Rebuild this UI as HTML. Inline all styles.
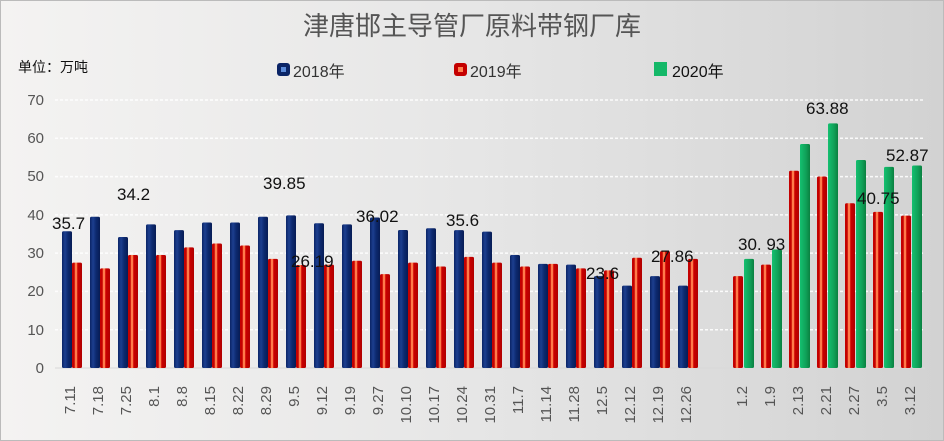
<!DOCTYPE html>
<html><head><meta charset="utf-8"><style>
body{margin:0;width:944px;height:441px;overflow:hidden}
svg{display:block}
text{font-family:"Liberation Sans","Noto Sans CJK SC",sans-serif}
</style></head><body>
<svg width="944" height="441" viewBox="0 0 944 441">
<defs>
<linearGradient id="bg" x1="0" x2="1" y1="0" y2="0"><stop offset="0" stop-color="#f4f3f2"/><stop offset="0.5" stop-color="#e6e6e6"/><stop offset="1" stop-color="#d2d2d2"/></linearGradient>
<linearGradient id="bl" x1="0" x2="1"><stop offset="0" stop-color="#0a2466"/><stop offset="0.3" stop-color="#1d3f8f"/><stop offset="0.6" stop-color="#0d2a70"/><stop offset="1" stop-color="#071c55"/></linearGradient>
<linearGradient id="rd" x1="0" x2="1"><stop offset="0" stop-color="#c40000"/><stop offset="0.25" stop-color="#c40000"/><stop offset="0.3" stop-color="#ff7a4a"/><stop offset="0.5" stop-color="#ff7a4a"/><stop offset="0.55" stop-color="#cc0000"/><stop offset="1" stop-color="#b00000"/></linearGradient>
<linearGradient id="gr" x1="0" x2="1"><stop offset="0" stop-color="#14c070"/><stop offset="0.6" stop-color="#10a058"/><stop offset="1" stop-color="#0a8040"/></linearGradient>
</defs>
<rect width="944" height="441" fill="url(#bg)"/>
<rect x="0.5" y="0.5" width="943" height="440" fill="none" stroke="#bbb"/>
<text x="472" y="35" font-size="26" fill="#555" text-anchor="middle">津唐邯主导管厂原料带钢厂库</text>
<text x="18" y="72" font-size="14" fill="#111">单位：万吨</text>
<rect x="277" y="63" width="13" height="13" rx="3" fill="#0a2466"/><rect x="281" y="67" width="5" height="5" fill="#5a8ad8"/>
<text x="293" y="77" font-size="16" fill="#333">2018年</text>
<rect x="454" y="63" width="13" height="13" rx="3" fill="#c40000"/><rect x="458" y="67" width="5" height="5" fill="#ff8050"/>
<text x="470" y="77" font-size="16" fill="#333">2019年</text>
<rect x="654" y="62" width="13" height="14" fill="#14b868"/>
<text x="672" y="77" font-size="16" fill="#111">2020年</text>
<g stroke="#fff" stroke-width="1.5" stroke-dasharray="3,2" opacity="0.9">
<line x1="55" x2="925" y1="100" y2="100"/><line x1="55" x2="925" y1="138.3" y2="138.3"/><line x1="55" x2="925" y1="176.6" y2="176.6"/><line x1="55" x2="925" y1="214.9" y2="214.9"/><line x1="55" x2="925" y1="253.1" y2="253.1"/><line x1="55" x2="925" y1="291.4" y2="291.4"/><line x1="55" x2="925" y1="329.7" y2="329.7"/>
</g>
<line x1="55" x2="925" y1="368" y2="368" stroke="#d8d8d8"/>
<g font-size="15" fill="#555" text-anchor="end">
<text x="44" y="105">70</text><text x="44" y="143">60</text><text x="44" y="181">50</text><text x="44" y="220">40</text><text x="44" y="258">30</text><text x="44" y="296">20</text><text x="44" y="335">10</text><text x="44" y="373">0</text>
</g>
<g id="bars"></g>
<g id="labs" font-size="15" fill="#555"></g>
<g font-size="17" fill="#111">
<text x="52" y="229">35.7</text><text x="117" y="200">34.2</text><text x="263" y="189">39.85</text><text x="291" y="267">26.19</text><text x="356" y="222">36.02</text><text x="446" y="226">35.6</text><text x="586" y="279">23.6</text><text x="651" y="262">27.86</text><text x="738" y="250">30. 93</text><text x="806" y="114">63.88</text><text x="857" y="204">40.75</text><text x="886" y="161">52.87</text>
</g>
</svg>
<script>
const ns="http://www.w3.org/2000/svg";
const cats=["7.11","7.18","7.25","8.1","8.8","8.15","8.22","8.29","9.5","9.12","9.19","9.27","10.10","10.17","10.24","10.31","11.7","11.14","11.28","12.5","12.12","12.19","12.26","","1.2","1.9","2.13","2.21","2.27","3.5","3.12"];
const a=[35.7,39.5,34.2,37.5,36,38,38,39.5,39.85,37.8,37.5,39.3,36.02,36.5,36,35.6,29.5,27.2,27,24,21.5,24,21.5];
const b=[27.5,26,29.5,29.5,31.5,32.5,32,28.5,26.9,27,28,24.5,27.5,26.5,29,27.5,26.5,27.2,26,25.5,28.8,30.5,28.5];
const r2=[24,27,51.5,50,43,40.75,39.8],g2=[28.5,30.93,58.5,63.88,54.3,52.5,52.87];
const B=document.getElementById("bars"),L=document.getElementById("labs");
function bar(x,v,f){const h=v*3.83;const r=document.createElementNS(ns,"rect");r.setAttribute("x",x);r.setAttribute("y",368-h);r.setAttribute("width",10);r.setAttribute("height",h);r.setAttribute("fill",f);r.setAttribute("rx",1.5);B.appendChild(r);}
cats.forEach((c,i)=>{const cx=70+28*i;
if(i<23){bar(cx-8,a[i],"url(#bl)");bar(cx+2,b[i],"url(#rd)");}
else if(i>23){bar(cx-9,r2[i-24],"url(#rd)");bar(cx+2,g2[i-24],"url(#gr)");}
if(c){const t=document.createElementNS(ns,"text");t.setAttribute("transform",`translate(${cx+5},386) rotate(-90)`);t.setAttribute("text-anchor","end");t.textContent=c;L.appendChild(t);}});
</script>
</body></html>
